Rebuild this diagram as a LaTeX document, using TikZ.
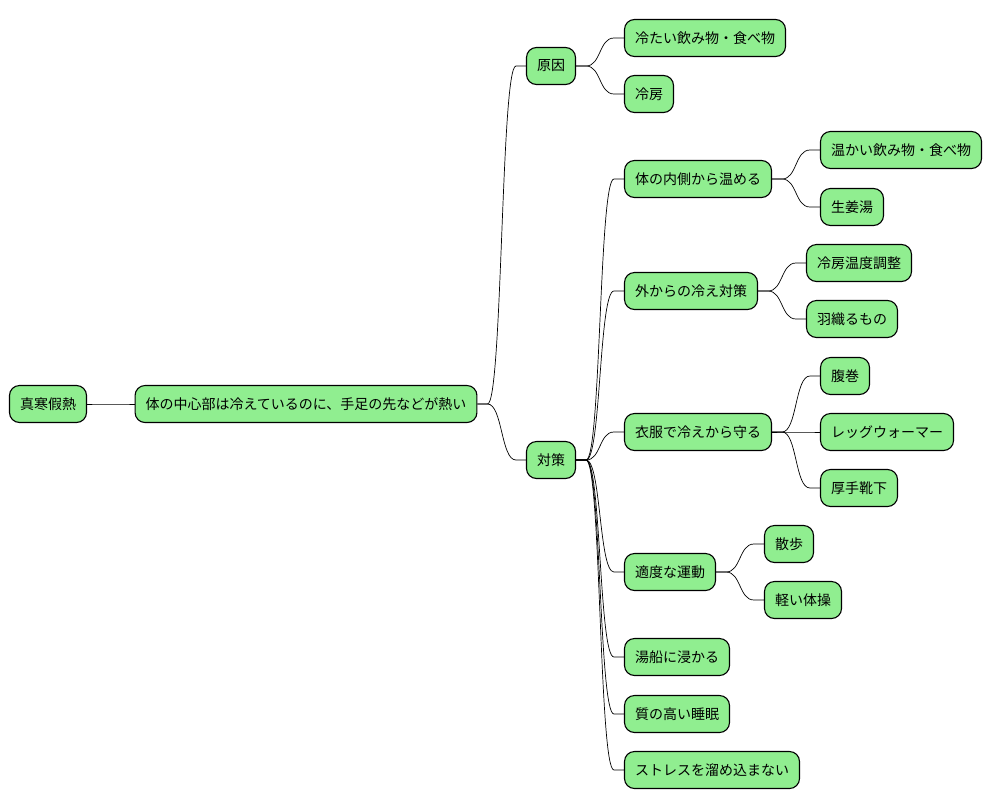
\documentclass[tikz,border=0pt]{standalone}
\usepackage{fontspec}
\setmainfont{Noto Sans CJK JP}
\definecolor{mapgreen}{HTML}{90EE90}

\begin{document}
\begin{tikzpicture}[x=1pt, y=-1pt,
  every node/.style = {shape=rectangle, rounded corners=10pt,
    draw, line width=1.1pt, fill=mapgreen,
    minimum height=37pt, inner xsep=10.5pt,
    font=\fontsize{14pt}{17pt}\selectfont},
  link/.style = {line width=0.7pt}]
  \useasboundingbox (0,0) rectangle (992,809);
  % root and its one topic
  \node (root) at (48,404) {真寒假熱};
  \node (core) at (306,404) {体の中心部は冷えているのに、手足の先などが熱い};
  % causes
  \node (cause) at (551,66) {原因};
  \node (cold) at (705,38) {冷たい飲み物・食べ物};
  \node (aircon) at (649,94) {冷房};
  % measures
  \node (measure) at (551,460) {対策};
  \node (inner) at (698,179) {体の内側から温める};
  \node (warmfood) at (901,150) {温かい飲み物・食べ物};
  \node (ginger) at (852,207) {生姜湯};
  \node (outer) at (691,291) {外からの冷え対策};
  \node (temp) at (859,263) {冷房温度調整};
  \node (jacket) at (852,319) {羽織るもの};
  \node (clothes) at (698,432) {衣服で冷えから守る};
  \node (belly) at (845,376) {腹巻};
  \node (legwarm) at (887,432) {レッグウォーマー};
  \node (socks) at (859,488) {厚手靴下};
  \node (exercise) at (670,572) {適度な運動};
  \node (walk) at (789,544) {散歩};
  \node (gym) at (803,600) {軽い体操};
  \node (bath) at (677,657) {湯船に浸かる};
  \node (sleep) at (677,714) {質の高い睡眠};
  \node (stress) at (712,770) {ストレスを溜め込まない};
  % connectors
  \foreach \src/\dst in {root/core, core/cause, core/measure,
      cause/cold, cause/aircon,
      measure/inner, measure/outer, measure/clothes, measure/exercise,
      measure/bath, measure/sleep, measure/stress,
      inner/warmfood, inner/ginger, outer/temp, outer/jacket,
      clothes/belly, clothes/legwarm, clothes/socks,
      exercise/walk, exercise/gym}
    \draw[link] (\src.east) -- ++(10,0) .. controls +(15,0) and +(-15,0) ..
      ([xshift=-10pt]\dst.west) -- (\dst.west);
\end{tikzpicture}
\end{document}
